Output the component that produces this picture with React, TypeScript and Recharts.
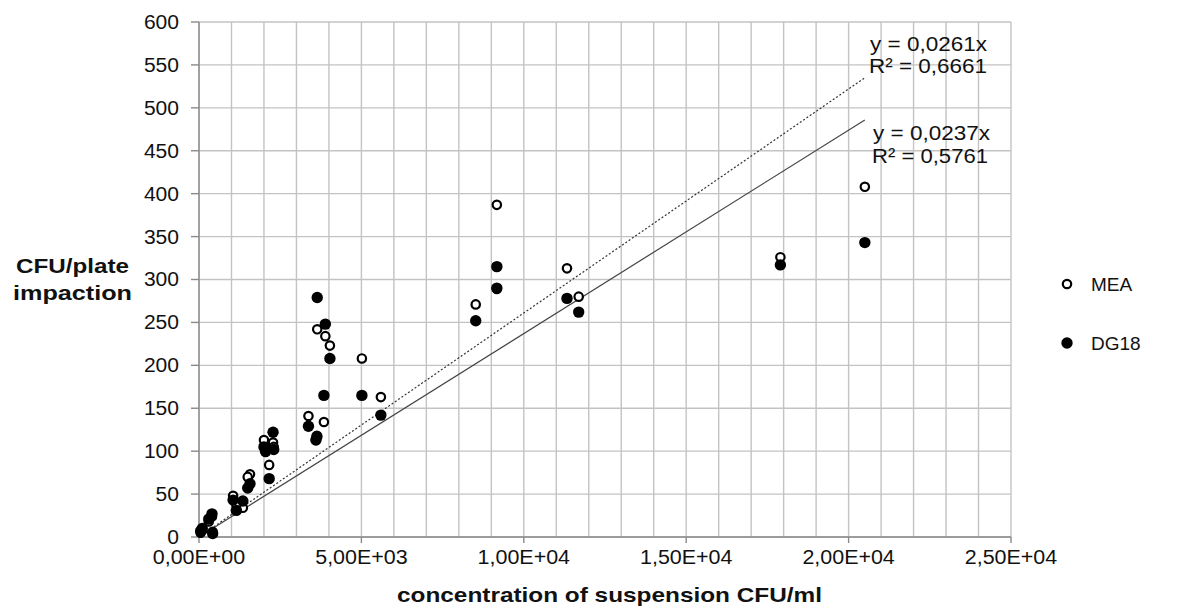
import { ScatterChart, Scatter, XAxis, YAxis, CartesianGrid, ReferenceLine } from 'recharts';

// concentration of suspension (CFU/ml), one entry per sample
const concentration = [20500, 17900, 11690, 11330, 9170, 9170, 8520, 5600, 5015, 4030, 3890, 3640, 3846, 3370, 3630, 3600, 2280, 2000, 2050, 2300, 2160, 1570, 1500, 1050, 1350, 1150, 400, 300, 100, 50, 420];
const meaCfu = [408, 326, 280, 313, 387, 289, 271, 163, 208, 223, 234, 242, 134, 141, 118, 113, 110, 113, 99, 105, 84, 73, 70, 48, 34, 38, 24, 18, 8, 5, 6];
const dg18Cfu = [343, 317, 262, 278, 315, 290, 252, 142, 165, 208, 248, 279, 165, 129, 117, 113, 122, 105, 100, 102, 68, 62, 57, 43, 42, 31, 27, 21, 10, 7, 4];

const meaSlope = 0.0261;
const dg18Slope = 0.0237;

const xDomain = [0, 25000];
const xTicks = [0, 5000, 10000, 15000, 20000, 25000];
const xTickLabels = ['0,00E+00', '5,00E+03', '1,00E+04', '1,50E+04', '2,00E+04', '2,50E+04'];
const yTicks = [0, 50, 100, 150, 200, 250, 300, 350, 400, 450, 500, 550, 600];
const minorXTicks = Array.from({ length: 26 }, (_, i) => i * 1000);

const meaData = concentration.map((x, i) => ({ x, y: meaCfu[i] }));
const dg18Data = concentration.map((x, i) => ({ x, y: dg18Cfu[i] }));
const xMin = Math.min(...concentration);
const xMax = Math.max(...concentration);

const FONT = '"Liberation Sans", Arial, sans-serif';

// vertical grid every 1000, placed through the axis scale
const minorVertical = ({ xAxis, offset }: any) => {
  const sc = xAxis && xAxis.scale;
  if (typeof sc === 'function') return minorXTicks.map(v => sc(v));
  if (sc && typeof sc.map === 'function') return minorXTicks.map(v => sc.map(v));
  return minorXTicks.map(v => offset.left + ((v - xDomain[0]) / (xDomain[1] - xDomain[0])) * offset.width);
};

const XTick = (props: any) => {
  const { x, y, payload } = props;
  const i = xTicks.indexOf(payload.value);
  return (
    <text transform={`translate(${x},${y}) scale(1.1,1)`} textAnchor="middle" dy="0.71em" fontSize={19.5} fill="#111" fontFamily={FONT}>
      {xTickLabels[i]}
    </text>
  );
};

const YTick = (props: any) => {
  const { x, y, payload } = props;
  return (
    <text transform={`translate(${x},${y}) scale(1.08,1)`} textAnchor="end" dy="0.355em" fontSize={19.5} fill="#111" fontFamily={FONT}>
      {payload.value}
    </text>
  );
};

const OpenDot = (p: any) => <circle cx={p.cx} cy={p.cy} r={4.2} fill="#fff" stroke="#000" strokeWidth={2.2} />;
const FilledDot = (p: any) => <circle cx={p.cx} cy={p.cy} r={5.7} fill="#000" />;

export default function App() {
  return (
    <div style={{ position: 'absolute', left: 0, top: 0, width: 1181, height: 610, background: '#fff' }}>
      <ScatterChart width={1181} height={610} margin={{ top: 22, right: 170, bottom: 0, left: 0 }}>
        <CartesianGrid stroke="#c3c3c3" strokeWidth={1.4} verticalCoordinatesGenerator={minorVertical} />
        <XAxis
          type="number"
          dataKey="x"
          domain={xDomain}
          ticks={xTicks}
          height={73}
          tickSize={6}
          tickMargin={7}
          axisLine={{ stroke: '#8a8a8a', strokeWidth: 1.4 }}
          tickLine={{ stroke: '#8a8a8a', strokeWidth: 1.4 }}
          tick={XTick}
        />
        <YAxis
          type="number"
          dataKey="y"
          domain={[0, 600]}
          ticks={yTicks}
          width={199}
          tickSize={8}
          tickMargin={12}
          axisLine={{ stroke: '#8a8a8a', strokeWidth: 1.4 }}
          tickLine={{ stroke: '#8a8a8a', strokeWidth: 1.4 }}
          tick={YTick}
        />
        <Scatter name="MEA" data={meaData} shape={OpenDot} isAnimationActive={false} />
        <Scatter name="DG18" data={dg18Data} shape={FilledDot} isAnimationActive={false} />
        <ReferenceLine
          segment={[{ x: xMin, y: meaSlope * xMin }, { x: xMax, y: meaSlope * xMax }]}
          stroke="#333"
          strokeWidth={1.2}
          strokeDasharray="2 2"
        />
        <ReferenceLine
          segment={[{ x: xMin, y: dg18Slope * xMin }, { x: xMax, y: dg18Slope * xMax }]}
          stroke="#444"
          strokeWidth={1.2}
        />
      </ScatterChart>
      <svg width={1181} height={610} style={{ position: 'absolute', left: 0, top: 0, pointerEvents: 'none' }} fontFamily={FONT}>
        <text x={870} y={51} fontSize={20} fill="#111" textLength={117} lengthAdjust="spacingAndGlyphs">y = 0,0261x</text>
        <text x={869} y={73} fontSize={20} fill="#111" textLength={118} lengthAdjust="spacingAndGlyphs">R² = 0,6661</text>
        <text x={873} y={140} fontSize={20} fill="#111" textLength={117} lengthAdjust="spacingAndGlyphs">y = 0,0237x</text>
        <text x={872} y={163} fontSize={20} fill="#111" textLength={116} lengthAdjust="spacingAndGlyphs">R² = 0,5761</text>

        <text x={16} y={273} fontSize={20} fontWeight="bold" fill="#111" textLength={113} lengthAdjust="spacingAndGlyphs">CFU/plate</text>
        <text x={13} y={300} fontSize={20} fontWeight="bold" fill="#111" textLength={119} lengthAdjust="spacingAndGlyphs">impaction</text>
        <text x={397} y={602} fontSize={21} fontWeight="bold" fill="#111" textLength={425} lengthAdjust="spacingAndGlyphs">concentration of suspension CFU/ml</text>

        <circle cx={1067} cy={284} r={4.2} fill="#fff" stroke="#000" strokeWidth={2.2} />
        <text x={1091} y={291} fontSize={19} fill="#111">MEA</text>
        <circle cx={1067} cy={343} r={5.7} fill="#000" />
        <text x={1091} y={350} fontSize={19} fill="#111">DG18</text>
      </svg>
    </div>
  );
}
